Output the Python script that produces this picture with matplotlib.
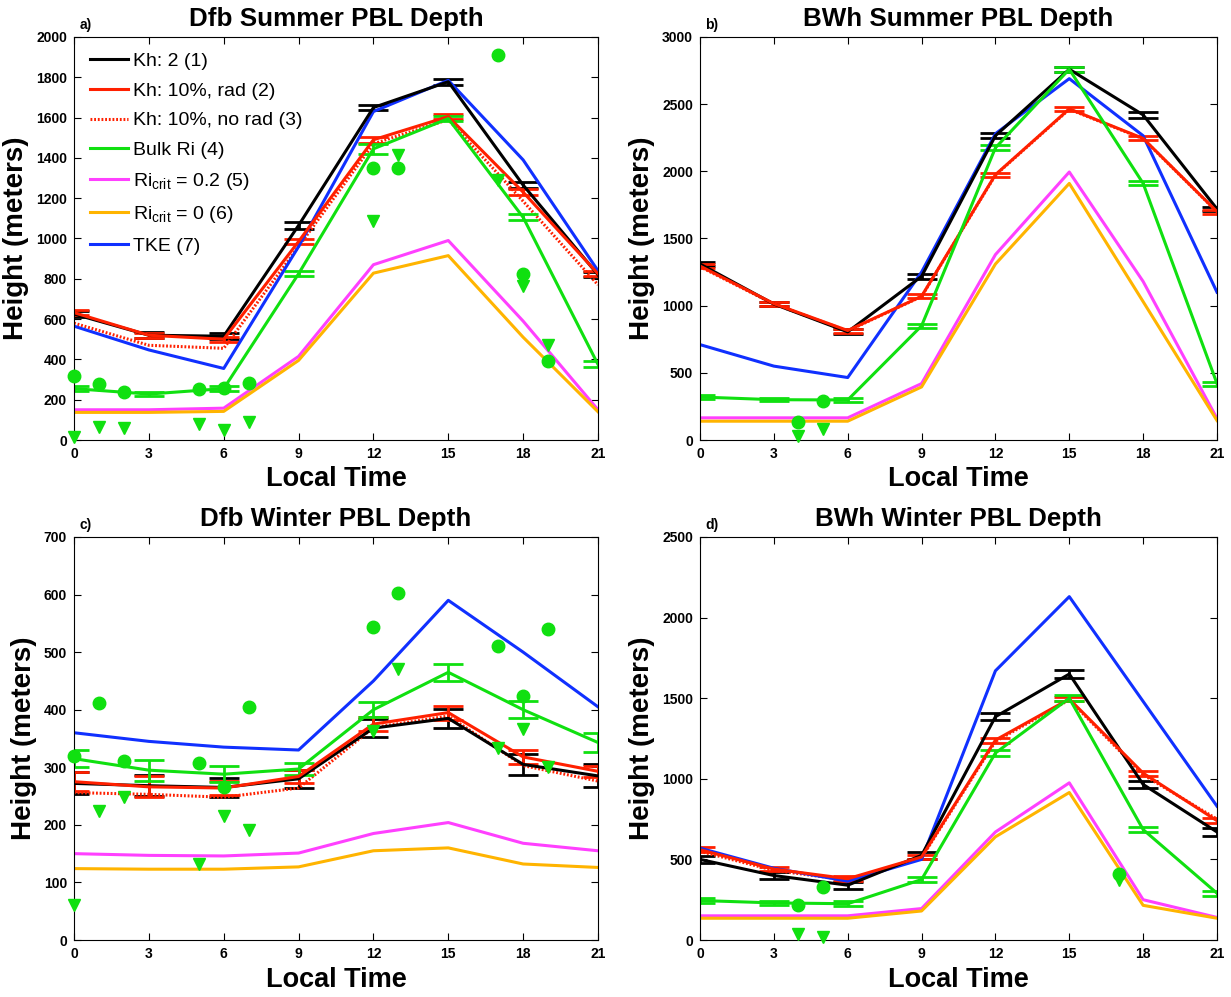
import matplotlib
matplotlib.use("Agg")
import matplotlib.pyplot as plt
import numpy as np

plt.rcParams['font.family'] = ['Liberation Sans', 'DejaVu Sans']
plt.rcParams['mathtext.fontset'] = 'custom'
plt.rcParams['mathtext.rm'] = 'Liberation Sans'

hours = [0, 3, 6, 9, 12, 15, 18, 21]
xticks = [0, 3, 6, 9, 12, 15, 18, 21]

titles = ["Dfb Summer PBL Depth", "BWh Summer PBL Depth",
          "Dfb Winter PBL Depth", "BWh Winter PBL Depth"]
panel_labels = ["a)", "b)", "c)", "d)"]
ylims = [2000, 3000, 700, 2500]
ytick_steps = [200, 500, 100, 500]

legend_labels = ["Kh: 2 (1)", "Kh: 10%, rad (2)", "Kh: 10%, no rad (3)", "Bulk Ri (4)",
                 r"Ri$_{\mathrm{crit}}$ = 0.2 (5)", r"Ri$_{\mathrm{crit}}$ = 0 (6)", "TKE (7)"]

# ---- Panel a: Dfb summer ----
a_kh2 = [625, 520, 515, 1065, 1650, 1778, 1265, 820]
a_kh2_err = [14, 14, 14, 17, 14, 14, 13, 13]
a_kh10 = [632, 520, 500, 985, 1490, 1605, 1230, 825]
a_kh10_err = [12, 12, 12, 14, 14, 14, 14, 12]
a_kh10nr = [580, 470, 455, 960, 1470, 1590, 1185, 770]
a_bulk = [255, 228, 255, 825, 1445, 1595, 1105, 375]
a_bulk_err = [12, 10, 12, 12, 25, 12, 15, 15]
a_ri02 = [150, 150, 158, 415, 870, 990, 590, 150]
a_ri0 = [137, 137, 142, 395, 828, 915, 510, 140]
a_tke = [565, 447, 355, 960, 1630, 1785, 1390, 840]
a_obs_circ_x = [0, 1, 2, 5, 6, 7, 12, 13, 17, 18, 19]
a_obs_circ_y = [320, 280, 240, 252, 257, 285, 1350, 1350, 1910, 822, 392]
a_obs_tri_x = [0, 1, 2, 5, 6, 7, 12, 13, 17, 18, 19]
a_obs_tri_y = [17, 63, 58, 80, 50, 90, 1085, 1412, 1290, 762, 472]

# ---- Panel b: BWh summer ----
b_kh2 = [1310, 1012, 805, 1218, 2265, 2760, 2420, 1720]
b_kh2_err = [18, 18, 18, 18, 18, 20, 20, 15]
b_kh10 = [1295, 1015, 815, 1070, 1975, 2465, 2245, 1700]
b_kh10_err = [15, 15, 15, 15, 15, 15, 15, 15]
b_kh10nr = [1290, 1012, 812, 1068, 1972, 2462, 2242, 1698]
b_bulk = [320, 300, 298, 850, 2175, 2760, 1910, 420]
b_bulk_err = [12, 12, 12, 15, 18, 18, 15, 15]
b_ri02 = [165, 165, 165, 420, 1380, 1995, 1180, 160]
b_ri0 = [140, 140, 140, 395, 1310, 1910, 1030, 145]
b_tke = [710, 550, 465, 1250, 2280, 2690, 2265, 1100]
b_obs_circ_x = [4, 5]
b_obs_circ_y = [135, 290]
b_obs_tri_x = [4, 5]
b_obs_tri_y = [30, 85]

# ---- Panel c: Dfb winter ----
c_kh2 = [272, 268, 265, 280, 368, 385, 305, 285]
c_kh2_err = [19, 18, 17, 16, 16, 17, 18, 20]
c_kh10 = [275, 266, 264, 284, 375, 395, 318, 293]
c_kh10_err = [17, 18, 13, 12, 12, 12, 12, 10]
c_kh10nr = [256, 253, 248, 264, 369, 389, 303, 276]
c_bulk = [315, 295, 288, 297, 400, 465, 400, 343]
c_bulk_err = [15, 18, 14, 10, 13, 15, 15, 16]
c_ri02 = [150, 147, 146, 151, 185, 204, 168, 155]
c_ri0 = [124, 123, 123, 127, 155, 160, 132, 126]
c_tke = [360, 345, 335, 330, 450, 590, 500, 405]
c_obs_circ_x = [0, 1, 2, 5, 6, 7, 12, 13, 17, 18, 19]
c_obs_circ_y = [320, 412, 311, 308, 265, 405, 544, 603, 511, 424, 540]
c_obs_tri_x = [0, 1, 2, 5, 6, 7, 12, 13, 17, 18, 19]
c_obs_tri_y = [61, 224, 249, 132, 216, 191, 363, 470, 334, 366, 300]

# ---- Panel d: BWh winter ----
d_kh2 = [500, 400, 340, 525, 1385, 1650, 965, 670]
d_kh2_err = [22, 22, 22, 22, 22, 22, 22, 22]
d_kh10 = [560, 440, 380, 515, 1240, 1495, 1035, 740]
d_kh10_err = [15, 15, 15, 15, 15, 15, 15, 15]
d_kh10nr = [550, 432, 372, 510, 1232, 1490, 1025, 750]
d_bulk = [245, 230, 225, 375, 1160, 1500, 685, 290]
d_bulk_err = [15, 15, 15, 18, 18, 18, 15, 15]
d_ri02 = [150, 150, 150, 195, 670, 975, 250, 140]
d_ri0 = [135, 135, 135, 180, 640, 915, 215, 135]
d_tke = [570, 445, 365, 500, 1670, 2130, 1480, 830]
d_obs_circ_x = [4, 5, 17]
d_obs_circ_y = [217, 326, 408]
d_obs_tri_x = [4, 5, 17]
d_obs_tri_y = [35, 20, 375]

panels = [
    (a_kh2, a_kh2_err, a_kh10, a_kh10_err, a_kh10nr, a_bulk, a_bulk_err, a_ri02, a_ri0, a_tke,
     a_obs_circ_x, a_obs_circ_y, a_obs_tri_x, a_obs_tri_y),
    (b_kh2, b_kh2_err, b_kh10, b_kh10_err, b_kh10nr, b_bulk, b_bulk_err, b_ri02, b_ri0, b_tke,
     b_obs_circ_x, b_obs_circ_y, b_obs_tri_x, b_obs_tri_y),
    (c_kh2, c_kh2_err, c_kh10, c_kh10_err, c_kh10nr, c_bulk, c_bulk_err, c_ri02, c_ri0, c_tke,
     c_obs_circ_x, c_obs_circ_y, c_obs_tri_x, c_obs_tri_y),
    (d_kh2, d_kh2_err, d_kh10, d_kh10_err, d_kh10nr, d_bulk, d_bulk_err, d_ri02, d_ri0, d_tke,
     d_obs_circ_x, d_obs_circ_y, d_obs_tri_x, d_obs_tri_y),
]

BLACK = '#000000'
RED = '#ff2000'
GREEN = '#10e010'
MAGENTA = '#ff40ff'
ORANGE = '#ffb400'
BLUE = '#1030ff'

W, H = 1231, 997
fig = plt.figure(figsize=(W / 100, H / 100), dpi=100)
rects = [
    (74 / W, 1 - 440 / H, (598 - 74) / W, (440 - 37) / H),
    (700 / W, 1 - 440 / H, (1217 - 700) / W, (440 - 37) / H),
    (74 / W, 1 - 940 / H, (598 - 74) / W, (940 - 537) / H),
    (700 / W, 1 - 940 / H, (1217 - 700) / W, (940 - 537) / H),
]

lw = 2.2
for i, (rect, p) in enumerate(zip(rects, panels)):
    (kh2, kh2e, kh10, kh10e, kh10nr, bulk, bulke, ri02, ri0, tke,
     ocx, ocy, otx, oty) = p
    ax = fig.add_axes(rect)
    ebkw = dict(capsize=11, capthick=2.0, elinewidth=2.0, lw=lw)
    h1 = ax.errorbar(hours, kh2, yerr=kh2e, color=BLACK, **ebkw)
    h2 = ax.errorbar(hours, kh10, yerr=kh10e, color=RED, **ebkw)
    h3, = ax.plot(hours, kh10nr, color=RED, lw=lw, ls=(0, (0.6, 0.6)))
    h4 = ax.errorbar(hours, bulk, yerr=bulke, color=GREEN, **ebkw)
    h5, = ax.plot(hours, ri02, color=MAGENTA, lw=lw)
    h6, = ax.plot(hours, ri0, color=ORANGE, lw=lw)
    h7, = ax.plot(hours, tke, color=BLUE, lw=lw)
    ax.plot(ocx, ocy, 'o', color=GREEN, ms=9, ls='none', clip_on=False, zorder=5)
    ax.plot(otx, oty, 'v', color=GREEN, ms=9, ls='none', clip_on=False, zorder=5)

    ax.set_xlim(0, 21)
    ax.set_ylim(0, ylims[i])
    ax.set_xticks(xticks)
    ax.set_yticks(np.arange(0, ylims[i] + 1, ytick_steps[i]))
    ax.tick_params(direction='in', top=True, right=True, length=5, width=0.8,
                   labelsize=10, pad=5)
    for lab in ax.get_xticklabels() + ax.get_yticklabels():
        lab.set_fontweight('bold')
    for s in ax.spines.values():
        s.set_linewidth(0.8)
    ax.set_title(titles[i], fontsize=18.7, fontweight='bold', pad=8)
    ax.set_xlabel("Local Time", fontsize=19.5, fontweight='bold', labelpad=4)
    ax.set_ylabel("Height (meters)", fontsize=20, fontweight='bold', labelpad=5)
    ax.text(0.01, 1.012, panel_labels[i], transform=ax.transAxes, fontsize=10,
            fontweight='bold', ha='left', va='bottom')

    if i == 0:
        handles = [h1.lines[0], h2.lines[0], h3, h4.lines[0], h5, h6, h7]
        ax.legend(handles, legend_labels, loc='upper left', frameon=False,
                  fontsize=14, handlelength=2.0, handletextpad=0.25,
                  labelspacing=0.62, borderaxespad=0.4)

fig.savefig("out.png", dpi=100)
